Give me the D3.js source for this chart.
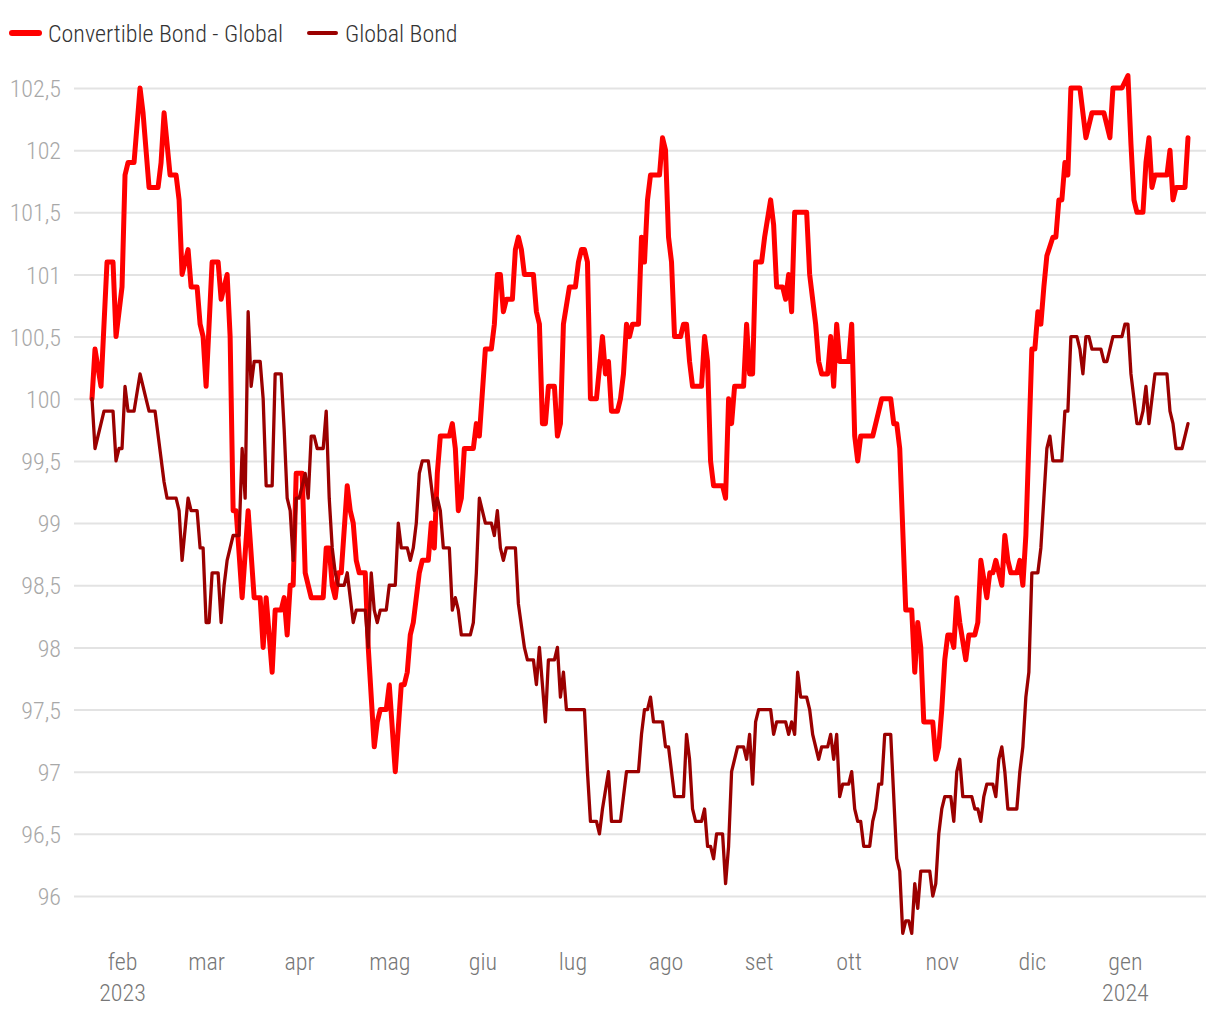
<!DOCTYPE html>
<html>
<head>
<meta charset="utf-8">
<script src="https://cdn.jsdelivr.net/npm/d3@7"></script>
<style>
  body { margin: 0; background: #fff; }
  svg { display: block; }
  svg text { font-family: "Roboto Condensed", "Liberation Sans Narrow", "Arial Narrow", "DejaVu Sans Condensed", sans-serif; font-weight: 300; }
</style>
</head>
<body>
<div id="chart"></div>
<script>
// series names
var seriesNames = ["Convertible Bond - Global", "Global Bond"];

// Convertible Bond - Global (one line per month)
var convDates = [
  "2023-01-22","2023-01-23","2023-01-25","2023-01-27","2023-01-29","2023-01-30",
  "2023-02-01","2023-02-02","2023-02-03","2023-02-05","2023-02-07","2023-02-08","2023-02-10","2023-02-13","2023-02-14","2023-02-15","2023-02-17","2023-02-19","2023-02-20","2023-02-21","2023-02-23","2023-02-24","2023-02-26","2023-02-27","2023-02-28",
  "2023-03-01","2023-03-03","2023-03-05","2023-03-06","2023-03-08","2023-03-09","2023-03-10","2023-03-11","2023-03-13","2023-03-15","2023-03-17","2023-03-19","2023-03-20","2023-03-21","2023-03-23","2023-03-24","2023-03-26","2023-03-27","2023-03-28","2023-03-29","2023-03-30","2023-03-31",
  "2023-04-02","2023-04-03","2023-04-05","2023-04-09","2023-04-10","2023-04-11","2023-04-12","2023-04-13","2023-04-14","2023-04-15","2023-04-17","2023-04-18","2023-04-19","2023-04-20","2023-04-21","2023-04-23","2023-04-24","2023-04-26","2023-04-27","2023-04-28","2023-04-30",
  "2023-05-01","2023-05-03","2023-05-05","2023-05-06","2023-05-07","2023-05-08","2023-05-09","2023-05-11","2023-05-12","2023-05-14","2023-05-15","2023-05-16","2023-05-17","2023-05-18","2023-05-21","2023-05-22","2023-05-23","2023-05-24","2023-05-25","2023-05-26","2023-05-29","2023-05-30","2023-05-31",
  "2023-06-02","2023-06-04","2023-06-05","2023-06-06","2023-06-07","2023-06-08","2023-06-09","2023-06-11","2023-06-12","2023-06-13","2023-06-14","2023-06-15","2023-06-18","2023-06-19","2023-06-20","2023-06-21","2023-06-22","2023-06-23","2023-06-25","2023-06-26","2023-06-27","2023-06-28","2023-06-30",
  "2023-07-02","2023-07-03","2023-07-04","2023-07-05","2023-07-06","2023-07-07","2023-07-09","2023-07-11","2023-07-12","2023-07-13","2023-07-14","2023-07-16","2023-07-17","2023-07-18","2023-07-19","2023-07-20","2023-07-21","2023-07-23","2023-07-24","2023-07-25","2023-07-26","2023-07-27","2023-07-30","2023-07-31",
  "2023-08-01","2023-08-02","2023-08-03","2023-08-04","2023-08-06","2023-08-07","2023-08-08","2023-08-09","2023-08-10","2023-08-13","2023-08-14","2023-08-15","2023-08-16","2023-08-17","2023-08-20","2023-08-21","2023-08-22","2023-08-23","2023-08-24","2023-08-27","2023-08-28","2023-08-29","2023-08-30","2023-08-31",
  "2023-09-02","2023-09-03","2023-09-05","2023-09-06","2023-09-07","2023-09-09","2023-09-10","2023-09-11","2023-09-12","2023-09-13","2023-09-17","2023-09-18","2023-09-20","2023-09-21","2023-09-22","2023-09-24","2023-09-25","2023-09-26","2023-09-27","2023-09-28",
  "2023-10-01","2023-10-02","2023-10-03","2023-10-04","2023-10-05","2023-10-09","2023-10-12","2023-10-15","2023-10-16","2023-10-17","2023-10-18","2023-10-20","2023-10-22","2023-10-23","2023-10-24","2023-10-25","2023-10-26","2023-10-29","2023-10-30","2023-10-31",
  "2023-11-01","2023-11-02","2023-11-03","2023-11-04","2023-11-05","2023-11-06","2023-11-07","2023-11-09","2023-11-10","2023-11-12","2023-11-13","2023-11-14","2023-11-16","2023-11-17","2023-11-18","2023-11-19","2023-11-21","2023-11-22","2023-11-23","2023-11-24","2023-11-26","2023-11-27","2023-11-28","2023-11-29",
  "2023-12-01","2023-12-02","2023-12-03","2023-12-04","2023-12-05","2023-12-06","2023-12-08","2023-12-09","2023-12-10","2023-12-11","2023-12-12","2023-12-13","2023-12-14","2023-12-17","2023-12-18","2023-12-19","2023-12-21","2023-12-25","2023-12-27","2023-12-28","2023-12-31",
  "2024-01-02","2024-01-03","2024-01-04","2024-01-05","2024-01-07","2024-01-08","2024-01-09","2024-01-10","2024-01-11","2024-01-15","2024-01-16","2024-01-17","2024-01-18","2024-01-21","2024-01-22"
];
var convValues = [
  100.0,100.4,100.1,101.1,101.1,100.5,
  100.9,101.8,101.9,101.9,102.5,102.3,101.7,101.7,101.9,102.3,101.8,101.8,101.6,101.0,101.2,100.9,100.9,100.6,100.5,
  100.1,101.1,101.1,100.8,101.0,100.5,99.1,99.1,98.4,99.1,98.4,98.4,98.0,98.4,97.8,98.3,98.3,98.4,98.1,98.5,98.5,99.4,
  99.4,98.6,98.4,98.4,98.8,98.8,98.5,98.4,98.6,98.6,99.3,99.1,99.0,98.7,98.6,98.6,98.0,97.2,97.4,97.5,97.5,
  97.7,97.0,97.7,97.7,97.8,98.1,98.2,98.6,98.7,98.7,99.0,98.8,99.4,99.7,99.7,99.8,99.6,99.1,99.2,99.6,99.6,99.8,99.7,
  100.4,100.4,100.6,101.0,101.0,100.7,100.8,100.8,101.2,101.3,101.2,101.0,101.0,100.7,100.6,99.8,99.8,100.1,100.1,99.7,99.8,100.6,100.9,
  100.9,101.1,101.2,101.2,101.1,100.0,100.0,100.5,100.2,100.3,99.9,99.9,100.0,100.2,100.6,100.5,100.6,100.6,101.3,101.1,101.6,101.8,101.8,102.1,
  102.0,101.3,101.1,100.5,100.5,100.6,100.6,100.3,100.1,100.1,100.5,100.3,99.5,99.3,99.3,99.2,100.0,99.8,100.1,100.1,100.6,100.2,100.2,101.1,
  101.1,101.3,101.6,101.4,100.9,100.9,100.8,101.0,100.7,101.5,101.5,101.0,100.6,100.3,100.2,100.2,100.5,100.1,100.6,100.3,
  100.3,100.6,99.7,99.5,99.7,99.7,100.0,100.0,99.8,99.8,99.6,98.3,98.3,97.8,98.2,98.0,97.4,97.4,97.1,97.2,
  97.5,97.9,98.1,98.1,98.0,98.4,98.2,97.9,98.1,98.1,98.2,98.7,98.4,98.6,98.6,98.7,98.5,98.9,98.7,98.6,98.6,98.7,98.5,98.9,
  100.4,100.4,100.7,100.6,100.9,101.15,101.3,101.3,101.6,101.6,101.9,101.8,102.5,102.5,102.3,102.1,102.3,102.3,102.1,102.5,102.5,
  102.6,102.05,101.6,101.5,101.5,101.9,102.1,101.7,101.8,101.8,102.0,101.6,101.7,101.7,102.1
];

// Global Bond (one line per month)
var globalDates = [
  "2023-01-22","2023-01-23","2023-01-26","2023-01-29","2023-01-30","2023-01-31",
  "2023-02-01","2023-02-02","2023-02-03","2023-02-05","2023-02-07","2023-02-09","2023-02-10","2023-02-12","2023-02-15","2023-02-16","2023-02-19","2023-02-20","2023-02-21","2023-02-23","2023-02-24","2023-02-26","2023-02-27","2023-02-28",
  "2023-03-01","2023-03-02","2023-03-03","2023-03-05","2023-03-06","2023-03-07","2023-03-08","2023-03-10","2023-03-12","2023-03-13","2023-03-14","2023-03-15","2023-03-16","2023-03-17","2023-03-19","2023-03-20","2023-03-21","2023-03-23","2023-03-24","2023-03-26","2023-03-27","2023-03-28","2023-03-29","2023-03-30","2023-03-31",
  "2023-04-01","2023-04-03","2023-04-04","2023-04-05","2023-04-06","2023-04-07","2023-04-09","2023-04-10","2023-04-11","2023-04-12","2023-04-13","2023-04-14","2023-04-16","2023-04-17","2023-04-19","2023-04-20","2023-04-23","2023-04-24","2023-04-25","2023-04-26","2023-04-27","2023-04-28","2023-04-30",
  "2023-05-01","2023-05-03","2023-05-04","2023-05-05","2023-05-07","2023-05-08","2023-05-09","2023-05-10","2023-05-11","2023-05-12","2023-05-14","2023-05-16","2023-05-17","2023-05-18","2023-05-19","2023-05-21","2023-05-22","2023-05-23","2023-05-24","2023-05-25","2023-05-28","2023-05-29","2023-05-30","2023-05-31",
  "2023-06-02","2023-06-04","2023-06-05","2023-06-06","2023-06-07","2023-06-08","2023-06-09","2023-06-12","2023-06-13","2023-06-15","2023-06-16","2023-06-18","2023-06-19","2023-06-20","2023-06-22","2023-06-23","2023-06-25","2023-06-26","2023-06-27","2023-06-28","2023-06-29",
  "2023-07-05","2023-07-06","2023-07-07","2023-07-09","2023-07-10","2023-07-11","2023-07-13","2023-07-14","2023-07-17","2023-07-18","2023-07-19","2023-07-23","2023-07-24","2023-07-25","2023-07-26","2023-07-27","2023-07-28","2023-07-31",
  "2023-08-01","2023-08-02","2023-08-04","2023-08-07","2023-08-08","2023-08-09","2023-08-10","2023-08-11","2023-08-13","2023-08-14","2023-08-15","2023-08-16","2023-08-17","2023-08-18","2023-08-20","2023-08-21","2023-08-22","2023-08-23","2023-08-25","2023-08-27","2023-08-28","2023-08-29","2023-08-30","2023-08-31",
  "2023-09-01","2023-09-05","2023-09-06","2023-09-07","2023-09-10","2023-09-11","2023-09-12","2023-09-13","2023-09-14","2023-09-15","2023-09-17","2023-09-18","2023-09-19","2023-09-21","2023-09-22","2023-09-24","2023-09-25","2023-09-26","2023-09-27","2023-09-28","2023-09-29",
  "2023-10-01","2023-10-02","2023-10-03","2023-10-04","2023-10-05","2023-10-06","2023-10-08","2023-10-09","2023-10-10","2023-10-11","2023-10-12","2023-10-13","2023-10-15","2023-10-17","2023-10-18","2023-10-19","2023-10-20","2023-10-21","2023-10-22","2023-10-23","2023-10-24","2023-10-25","2023-10-28","2023-10-29","2023-10-30","2023-10-31",
  "2023-11-01","2023-11-02","2023-11-04","2023-11-05","2023-11-06","2023-11-07","2023-11-08","2023-11-11","2023-11-12","2023-11-13","2023-11-14","2023-11-15","2023-11-16","2023-11-18","2023-11-19","2023-11-20","2023-11-21","2023-11-22","2023-11-23","2023-11-26","2023-11-27","2023-11-28","2023-11-29","2023-11-30",
  "2023-12-01","2023-12-03","2023-12-04","2023-12-05","2023-12-06","2023-12-07","2023-12-08","2023-12-11","2023-12-12","2023-12-13","2023-12-14","2023-12-16","2023-12-17","2023-12-18","2023-12-19","2023-12-20","2023-12-21","2023-12-24","2023-12-25","2023-12-26","2023-12-28","2023-12-31",
  "2024-01-01","2024-01-02","2024-01-03","2024-01-05","2024-01-06","2024-01-07","2024-01-08","2024-01-09","2024-01-11","2024-01-15","2024-01-16","2024-01-17","2024-01-18","2024-01-20","2024-01-22"
];
var globalValues = [
  100.0,99.6,99.9,99.9,99.5,99.6,
  99.6,100.1,99.9,99.9,100.2,100.0,99.9,99.9,99.33,99.2,99.2,99.1,98.7,99.2,99.1,99.1,98.8,98.8,
  98.2,98.2,98.6,98.6,98.2,98.5,98.7,98.9,98.9,99.6,99.2,100.7,100.1,100.3,100.3,100.0,99.3,99.3,100.2,100.2,99.75,99.2,99.1,98.7,99.2,
  99.2,99.4,99.2,99.7,99.7,99.6,99.6,99.9,99.2,98.8,98.6,98.5,98.5,98.6,98.2,98.3,98.3,98.0,98.6,98.3,98.2,98.3,98.3,
  98.5,98.5,99.0,98.8,98.8,98.7,98.8,99.0,99.4,99.5,99.5,99.1,99.2,99.1,98.8,98.8,98.3,98.4,98.3,98.1,98.1,98.2,98.6,99.2,
  99.0,99.0,98.9,99.1,98.8,98.7,98.8,98.8,98.35,98.0,97.9,97.9,97.7,98.0,97.4,97.9,97.9,98.0,97.6,97.8,97.5,
  97.5,97.0,96.6,96.6,96.5,96.7,97.0,96.6,96.6,96.8,97.0,97.0,97.3,97.5,97.5,97.6,97.4,97.4,
  97.2,97.2,96.8,96.8,97.3,97.1,96.7,96.6,96.6,96.7,96.4,96.4,96.3,96.5,96.5,96.1,96.4,97.0,97.2,97.2,97.1,97.3,96.9,97.4,
  97.5,97.5,97.3,97.4,97.4,97.3,97.4,97.3,97.8,97.6,97.6,97.5,97.3,97.1,97.2,97.2,97.3,97.1,97.3,96.8,96.9,
  96.9,97.0,96.7,96.6,96.6,96.4,96.4,96.6,96.7,96.9,96.9,97.3,97.3,96.3,96.2,95.7,95.8,95.8,95.7,96.1,95.9,96.2,96.2,96.0,96.1,96.5,
  96.7,96.8,96.8,96.6,97.0,97.1,96.8,96.8,96.7,96.7,96.6,96.8,96.9,96.9,96.8,97.1,97.2,97.0,96.7,96.7,97.0,97.2,97.6,97.8,
  98.6,98.6,98.8,99.2,99.6,99.7,99.5,99.5,99.9,99.9,100.5,100.5,100.4,100.2,100.5,100.5,100.4,100.4,100.3,100.3,100.5,100.5,
  100.6,100.6,100.2,99.8,99.8,99.9,100.1,99.8,100.2,100.2,99.9,99.8,99.6,99.6,99.8
];

// axis labels
var yTickValues = [96, 96.5, 97, 97.5, 98, 98.5, 99, 99.5, 100, 100.5, 101, 101.5, 102, 102.5];
var monthNames = ["gen", "feb", "mar", "apr", "mag", "giu", "lug", "ago", "set", "ott", "nov", "dic"];

var colors = ["#ff0000", "#9b0000"];

var width = 1220, height = 1020;
var fontSize = "24px";
var parseDate = d3.timeParse("%Y-%m-%d");
var itFormat = d3.formatLocale({decimal: ",", thousands: ".", grouping: [3], currency: ["", " €"]}).format(".1~f");

var svg = d3.select("#chart").append("svg")
    .attr("width", width)
    .attr("height", height);

var x = d3.scaleTime()
    .domain([parseDate(convDates[0]), parseDate(convDates[convDates.length - 1])])
    .range([92, 1188]);

var y = d3.scaleLinear()
    .domain([96, 102.5])
    .range([896, 88]);

// grid + y labels
var yAxis = svg.append("g")
    .attr("transform", "translate(74,0)")
    .call(d3.axisLeft(y)
        .tickValues(yTickValues)
        .tickSize(-1132)
        .tickPadding(13)
        .tickFormat(itFormat));
yAxis.attr("font-family", null).attr("font-size", null);
yAxis.select(".domain").remove();
yAxis.selectAll(".tick line")
    .attr("stroke", "#e3e3e3")
    .attr("stroke-width", 2);
yAxis.selectAll(".tick text")
    .attr("fill", "#a8a8a8")
    .attr("font-size", fontSize)
    .attr("dy", "0.36em");

// x labels (month + year under first month and january)
var xAxis = svg.append("g")
    .attr("transform", "translate(0,950)")
    .call(d3.axisBottom(x)
        .ticks(d3.timeMonth.every(1))
        .tickSize(0)
        .tickPadding(3)
        .tickFormat(function(d){ return monthNames[d.getMonth()]; }));
xAxis.attr("font-family", null).attr("font-size", null);
xAxis.select(".domain").remove();
xAxis.selectAll(".tick text")
    .attr("fill", "#777")
    .attr("font-size", fontSize);
xAxis.selectAll(".tick")
    .filter(function(d, i){ return i === 0 || d.getMonth() === 0; })
    .append("text")
    .attr("fill", "#777")
    .attr("font-size", fontSize)
    .attr("y", 34)
    .attr("dy", "0.71em")
    .text(function(d){ return d.getFullYear(); });

// lines
var line = d3.line()
    .x(function(d){ return x(d.date); })
    .y(function(d){ return y(d.value); });

var conv = convDates.map(function(d, i){ return {date: parseDate(d), value: convValues[i]}; });
var glob = globalDates.map(function(d, i){ return {date: parseDate(d), value: globalValues[i]}; });

svg.append("path")
    .datum(conv)
    .attr("fill", "none")
    .attr("stroke", colors[0])
    .attr("stroke-width", 5)
    .attr("stroke-linejoin", "round")
    .attr("stroke-linecap", "round")
    .attr("d", line);

svg.append("path")
    .datum(glob)
    .attr("fill", "none")
    .attr("stroke", colors[1])
    .attr("stroke-width", 3.3)
    .attr("stroke-linejoin", "round")
    .attr("stroke-linecap", "round")
    .attr("d", line);

// legend
var legendX = [10, 307];
var legendW = [6, 4];
var legend = svg.selectAll(".legend")
    .data(seriesNames)
    .enter().append("g")
    .attr("class", "legend")
    .attr("transform", function(d, i){ return "translate(" + legendX[i] + ",0)"; });

legend.append("line")
    .attr("x1", 2).attr("x2", 29)
    .attr("y1", 33).attr("y2", 33)
    .attr("stroke", function(d, i){ return colors[i]; })
    .attr("stroke-width", function(d, i){ return legendW[i]; })
    .attr("stroke-linecap", "round");

legend.append("text")
    .attr("x", 38)
    .attr("y", 42)
    .attr("fill", "#333")
    .attr("font-size", fontSize)
    .text(function(d){ return d; });
</script>
</body>
</html>
